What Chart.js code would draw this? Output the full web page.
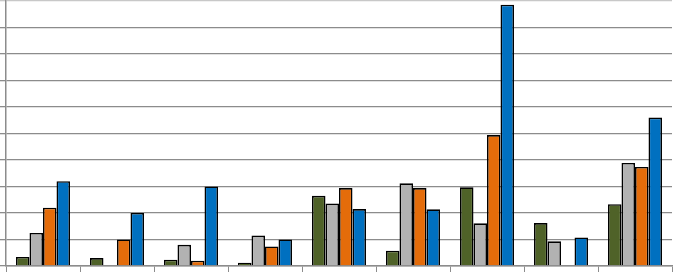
<!DOCTYPE html>
<html>
<head>
<meta charset="utf-8">
<script src="https://cdn.jsdelivr.net/npm/chart.js@4/dist/chart.umd.min.js"></script>
<style>
  html, body { margin: 0; padding: 0; background: #ffffff; }
  #wrap { width: 674px; height: 272px; position: relative; }
</style>
</head>
<body>
<div id="wrap"><canvas id="c"></canvas></div>
<script>
const categories = ["1", "2", "3", "4", "5", "6", "7", "8", "9"];
const seriesGreen  = [0.34, 0.30, 0.24, 0.12, 2.65, 0.58, 2.97, 1.62, 2.33];
const seriesGray   = [1.25, 0.00, 0.80, 1.15, 2.36, 3.12, 1.61, 0.93, 3.89];
const seriesOrange = [2.20, 1.00, 0.20, 0.74, 2.94, 2.94, 4.94, 0.00, 3.74];
const seriesBlue   = [3.20, 2.00, 3.00, 1.00, 2.15, 2.14, 9.86, 1.08, 5.60];
const yMax = 10;
const yStep = 1;

function ds(data, color) {
  return {
    data: data,
    backgroundColor: color,
    borderColor: '#000000',
    borderWidth: 1.6,
    borderSkipped: 'bottom',
    barPercentage: 1.0,
    categoryPercentage: 0.73
  };
}

new Chart(document.getElementById('c'), {
  type: 'bar',
  data: {
    labels: categories,
    datasets: [
      ds(seriesGreen, '#4F6228'),
      ds(seriesGray, '#B2B2B2'),
      ds(seriesOrange, '#E46C0A'),
      ds(seriesBlue, '#0070C0')
    ]
  },
  options: {
    responsive: true,
    maintainAspectRatio: false,
    animation: false,
    layout: { padding: { top: 1, right: 2, left: 0, bottom: 0 } },
    plugins: { legend: { display: false }, tooltip: { enabled: false } },
    scales: {
      x: {
        ticks: { display: false },
        grid: {
          display: true,
          offset: true,
          drawOnChartArea: false,
          drawTicks: true,
          tickLength: 6,
          color: '#8c8c8c',
          lineWidth: 1
        },
        border: { display: true, color: '#8c8c8c', width: 1.5 }
      },
      y: {
        min: 0,
        max: yMax,
        ticks: { display: false, stepSize: yStep },
        grid: {
          display: true,
          drawTicks: true,
          tickLength: 6,
          color: (ctx) => (ctx.tick && ctx.tick.value === yMax) ? '#c8c8c8' : '#8c8c8c',
          lineWidth: 1.3
        },
        border: { display: true, color: '#8c8c8c', width: 1.5 }
      }
    }
  }
});
</script>
</body>
</html>
